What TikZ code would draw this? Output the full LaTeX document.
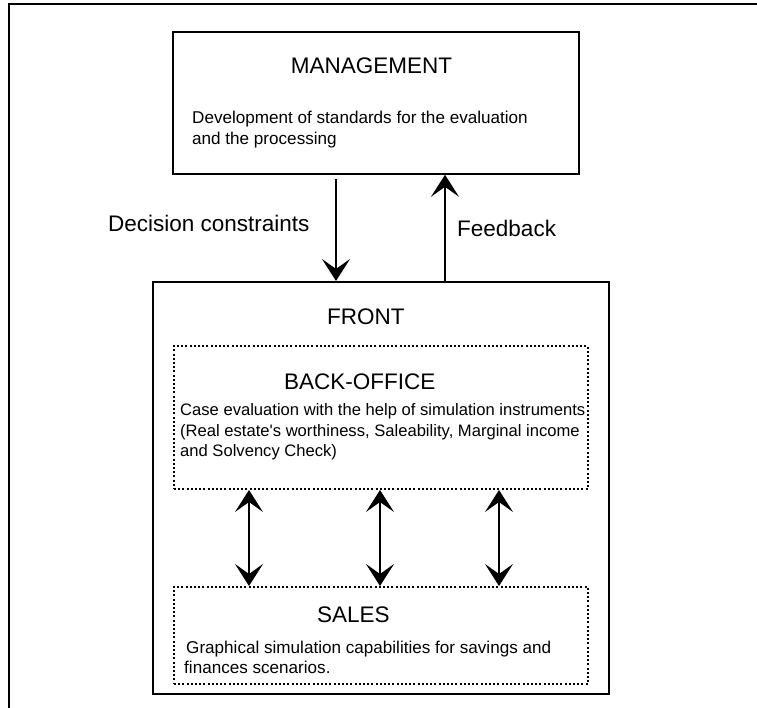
\documentclass[tikz,border=0pt]{standalone}
\usepackage{fontspec}
\setmainfont{Liberation Sans}[Ligatures=TeXOff]
\usetikzlibrary{arrows.meta}
\begin{document}
\begin{tikzpicture}[x=1pt,y=-1pt,
  box/.style={draw, line width=1.8pt, rectangle, inner sep=0pt, anchor=north west},
  dotbox/.style={draw, line width=2pt, dash pattern=on 2pt off 2.2pt, rectangle, inner sep=0pt, anchor=north west},
  title/.style={font=\fontsize{22.5}{26}\selectfont, inner sep=0pt, anchor=base west},
  desc/.style={font=\fontsize{17.1}{20.5}\selectfont, inner sep=0pt, anchor=base west},
  tip/.tip={Stealth[length=22pt,width=28pt,inset=10pt]},
  arr/.style={line width=1.4pt, -tip},
  biarr/.style={line width=1.4pt, tip-tip},
]
\useasboundingbox (0,0) rectangle (757,708);

% outer frame (open at right and bottom)
\draw[line width=2pt] (757,4) -- (9,4) -- (9,708);

% boxes
\node[box, minimum width=406pt, minimum height=142pt] (mgmt) at (172,31) {};
\node[box, minimum width=456pt, minimum height=412pt] (front) at (152,281) {};
\node[dotbox, minimum width=414pt, minimum height=143pt] (back) at (173,345) {};
\node[dotbox, minimum width=414pt, minimum height=97pt] (sales) at (173,586) {};

% texts
\node[title, anchor=base] (mgmtT) at (371.5,74) {MANAGEMENT};
\node[desc] (mgmtD1) at (192,124) {Development of standards for the evaluation};
\node[desc] (mgmtD2) at (192,145) {and the processing};

\node[title] (decT) at (108,232) {Decision constraints};
\node[title] (fbT) at (457,237) {Feedback};

\node[title] (frontT) at (327,325) {FRONT};

\node[title] (backT) at (284,389) {BACK-OFFICE};
\begin{scope}[desc/.append style={font=\fontsize{16.6}{20.5}\selectfont}]
\node[desc] (backD1) at (180,415) {Case evaluation with the help of simulation instruments};
\node[desc] (backD2) at (180,436) {(Real estate's worthiness, Saleability, Marginal income};
\node[desc] (backD3) at (180,456) {and Solvency Check)};
\end{scope}

\node[title] (salesT) at (317,622) {SALES};
\node[desc] (salesD1) at (186,653) {Graphical simulation capabilities for savings and};
\node[desc] (salesD2) at (184,673) {finances scenarios.};

% connectors between management and front
\coordinate (dc) at (336,179);
\coordinate (fb) at (445,281);
\draw[arr] (dc) -- (dc |- front.north);
\draw[arr] (front.north -| fb) -- (fb |- mgmt.south);

% connectors between back-office and sales
\coordinate (l1) at (249,0);
\coordinate (l2) at (380,0);
\coordinate (l3) at (499,0);
\foreach \c in {l1,l2,l3}
  \draw[biarr] (back.south -| \c) -- (sales.north -| \c);
\end{tikzpicture}
\end{document}
